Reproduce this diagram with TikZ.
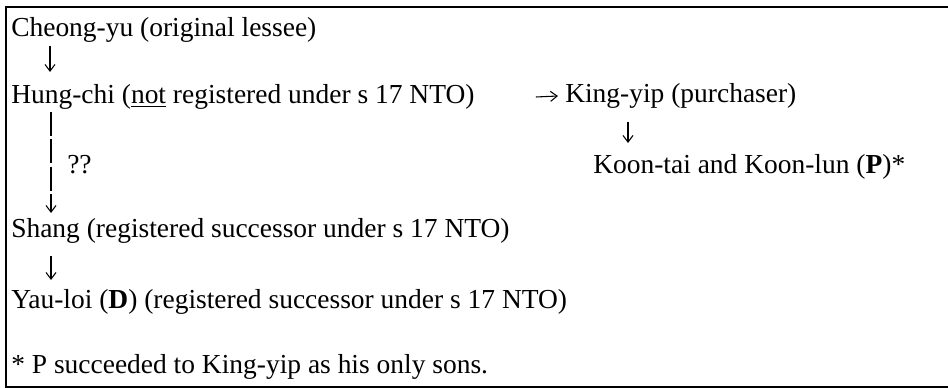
\documentclass[tikz,border=0pt]{standalone}
\usepackage{fontspec}
\setmainfont{Liberation Serif}
\usetikzlibrary{arrows.meta, calc}

\begin{document}
\begin{tikzpicture}[
  x=0.75pt, y=-0.75pt,
  entry/.style={anchor=base west, inner sep=0pt, font=\fontsize{20.6}{24}\selectfont},
  succ/.style={line width=0.8pt, -{Straight Barb[length=5pt, width=7.5pt]}},
  frame/.style={line width=1.6pt}
]
  \useasboundingbox (0,0) rectangle (948,388);
  \draw[frame] (6,7) rectangle (956,387);

  % Chain of lessees (left column)
  \node[entry] (cheong) at (11,37) {Cheong-yu (original lessee)};
  \node[entry] (hungchi) at (11,104) {Hung-chi (\underline{not} registered under s 17 NTO)};
  \node[entry] (shang) at (11,238) {Shang (registered successor under s 17 NTO)};
  \node[entry] (yauloi) at (11,308) {Yau-loi (\textbf{D}) (registered successor under s 17 NTO)};

  % Purchaser branch (right)
  \node[entry] (kingyip) at (565,103) {King-yip (purchaser)};
  \node[entry] (koon) at (593,174) {Koon-tai and Koon-lun (\textbf{P})*};

  % Doubtful link
  \node[entry] (doubt) at (67,174) {??};

  % Footnote
  \node[entry] (note) at (11,373) {* P succeeded to King-yip as his only sons.};

  % Successions
  \draw[succ] ($(cheong.base west)+(39,9)$) -- ($(hungchi.base west)+(39,-32)$);
  \draw[succ, dash pattern=on 18pt off 2.5pt] ($(hungchi.base west)+(40,8)$) -- ($(shang.base west)+(40,-25)$);
  \draw[succ] ($(shang.base west)+(40,18)$) -- ($(yauloi.base west)+(40,-28)$);
  \draw[succ] ($(hungchi.base east)+(61,-7)$) -- ($(kingyip.base west)+(-7,-7)$);
  \draw[succ] ($(kingyip.base west)+(63,19)$) -- ($(koon.base west)+(35,-31)$);
\end{tikzpicture}
\end{document}
